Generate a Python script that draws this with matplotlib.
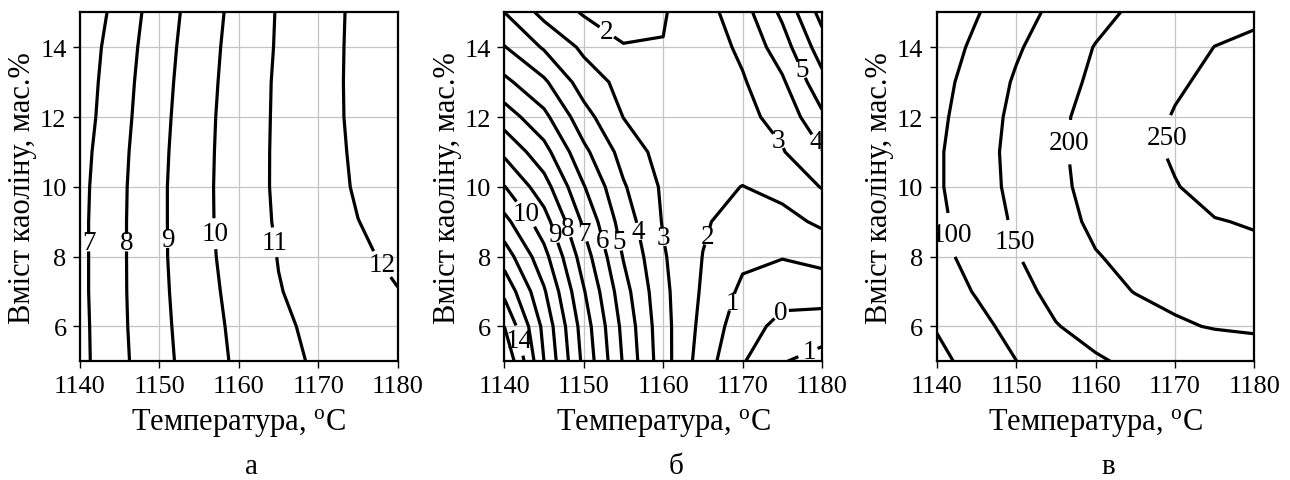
import numpy as np
import matplotlib
matplotlib.use('Agg')
import matplotlib.pyplot as plt

plt.rcParams['font.family'] = ['Liberation Serif', 'DejaVu Serif']
plt.rcParams['mathtext.fontset'] = 'custom'
plt.rcParams['mathtext.rm'] = 'Liberation Serif'
plt.rcParams['mathtext.it'] = 'Liberation Serif:italic'

# ---------------- data ----------------
temperature = [1140, 1145, 1150, 1155, 1160, 1165, 1170, 1175, 1180]
kaolin = [5, 6, 7, 8, 9, 10, 11, 12, 13, 14, 15]

# panel a (rows: kaolin 5..15, columns: temperature 1140..1180)
z_a = [
    [6.73, 7.77, 8.70, 9.49, 10.17, 10.72, 11.13, 11.39, 11.65],
    [6.74, 7.81, 8.75, 9.55, 10.24, 10.83, 11.21, 11.51, 11.80],
    [6.77, 7.83, 8.79, 9.62, 10.33, 10.96, 11.31, 11.64, 11.97],
    [6.77, 7.83, 8.82, 9.69, 10.41, 11.03, 11.43, 11.83, 12.20],
    [6.77, 7.83, 8.82, 9.72, 10.47, 11.11, 11.55, 11.99, 12.25],
    [6.74, 7.81, 8.82, 9.72, 10.49, 11.15, 11.63, 12.09, 12.33],
    [6.67, 7.76, 8.78, 9.70, 10.48, 11.15, 11.67, 12.13, 12.38],
    [6.55, 7.68, 8.72, 9.67, 10.46, 11.14, 11.69, 12.17, 12.42],
    [6.48, 7.61, 8.66, 9.61, 10.43, 11.13, 11.69, 12.18, 12.45],
    [6.39, 7.52, 8.58, 9.55, 10.38, 11.09, 11.67, 12.18, 12.45],
    [6.19, 7.38, 8.49, 9.46, 10.32, 11.07, 11.65, 12.17, 12.45],
]
levels_a = [7, 8, 9, 10, 11, 12]

# panel b
z_b = [
    [16.0, 12.0, 8.75, 5.90, 3.41, 1.50, 0.08, -0.94, -1.40],
    [15.0, 11.73, 8.53, 5.72, 3.35, 1.70, 0.43, -0.29, -0.45],
    [13.75, 11.12, 8.08, 5.39, 3.24, 1.87, 0.80, 0.36, 0.43],
    [12.53, 10.33, 7.50, 4.94, 3.10, 1.98, 1.20, 1.05, 1.30],
    [11.31, 9.42, 6.82, 4.52, 2.93, 2.11, 1.60, 1.68, 2.18],
    [10.04, 8.42, 6.06, 4.10, 2.85, 2.30, 1.98, 2.31, 3.05],
    [8.80, 7.36, 5.24, 3.63, 2.60, 2.30, 2.50, 2.93, 3.95],
    [7.52, 6.26, 4.39, 2.98, 2.45, 2.35, 2.75, 3.30, 4.82],
    [6.24, 5.17, 3.52, 2.70, 2.25, 2.40, 2.90, 3.85, 5.68],
    [5.05, 3.89, 2.80, 2.05, 2.03, 2.45, 3.20, 4.53, 6.52],
    [4.00, 2.70, 1.90, 1.60, 1.93, 2.59, 3.59, 5.21, 7.35],
]
levels_b = [-1, 0, 1, 2, 3, 4, 5, 6, 7, 8, 9, 10, 11, 12, 13, 14, 15]

# panel c
z_c = [
    [36.9, 68.1, 99.4, 122.5, 145.4, 157.8, 167.5, 177.3, 187.0],
    [53.0, 84.7, 117.3, 148.1, 163.8, 178.5, 196.0, 202.0, 203.5],
    [72.5, 103.8, 135.9, 162.1, 183.6, 201.5, 208.0, 214.0, 220.6],
    [85.8, 116.7, 147.5, 173.0, 198.0, 209.5, 220.0, 231.0, 241.0],
    [89.0, 123.3, 156.5, 186.3, 207.3, 220.9, 234.5, 248.1, 253.0],
    [93.6, 129.3, 162.2, 191.3, 212.4, 230.1, 247.9, 263.8, 272.0],
    [93.3, 130.6, 164.0, 193.0, 215.2, 235.2, 255.4, 267.0, 276.0],
    [88.6, 126.5, 161.4, 191.6, 214.0, 233.3, 252.5, 264.0, 272.0],
    [83.1, 119.9, 155.2, 183.9, 208.1, 226.5, 244.9, 258.0, 264.0],
    [74.0, 109.7, 144.4, 174.4, 201.9, 217.3, 232.7, 250.5, 254.0],
    [58.0, 96.6, 130.8, 161.1, 186.4, 208.0, 222.0, 234.0, 246.0],
]
levels_c = [50, 100, 150, 200, 250]

x_ticks = [1140, 1150, 1160, 1170, 1180]
y_ticks = [6, 8, 10, 12, 14]
x_label = r'Температура, $^{\mathrm{o}}$C'
y_label = 'Вміст каоліну, мас.%'
panel_letters = ['а', 'б', 'в']

# label anchors {level: [(T, C), ...]} and displayed text
labels_a = {7: [(1141.1, 8.4)], 8: [(1145.8, 8.4)], 9: [(1150.8, 8.5)],
            10: [(1156.6, 8.65)], 11: [(1164.2, 8.4)], 12: [(1177.2, 7.65)]}
labels_b = {14: [(1142.0, 5.6)], 10: [(1142.0, 9.1)], 9: [(1144.7, 8.5)],
            8: [(1146.7, 8.7)], 7: [(1149.0, 8.6)], 6: [(1151.4, 8.4)],
            5: [(1154.1, 8.4), (1177.9, 13.4)], 4: [(1156.4, 8.7), (1179.4, 11.3)],
            3: [(1160.0, 8.55), (1175.0, 11.4)], 2: [(1165.4, 8.6), (1152.8, 14.4)],
            1: [(1168.6, 6.7)], 0: [(1174.6, 6.45)], -1: [(1178.0, 5.5)]}
text_b = {-1: '1'}
labels_c = {100: [(1142.7, 8.65)], 150: [(1150.1, 8.46)],
            200: [(1155.3, 11.3)], 250: [(1168.3, 11.45)]}

# ---------------- plot ----------------
W, H = 1290, 481
fig = plt.figure(figsize=(W / 100, H / 100), dpi=100)

ax_lefts = [80, 504.3, 936.7]
ax_w = 317.7
ax_top, ax_bot = 13.3, 362.3

T, Cg = np.meshgrid(np.array(temperature, float), np.array(kaolin, float))
fields = [np.array(z_a), np.array(z_b), np.array(z_c)]
levels_all = [levels_a, levels_b, levels_c]
labels_all = [labels_a, labels_b, labels_c]
texts_all = [{}, text_b, {}]

for i in range(3):
    ax = fig.add_axes([ax_lefts[i] / W, 1 - ax_bot / H, ax_w / W, (ax_bot - ax_top) / H])
    ax.set_axisbelow(True)
    ax.grid(True, color='#c4c4c4', lw=0.9)
    for lev in levels_all[i]:
        cs = ax.contour(T, Cg, fields[i], levels=[lev], colors='k', linewidths=2.3)
        if lev in labels_all[i]:
            fmt = {lev: texts_all[i].get(lev, str(lev))}
            txts = cs.clabel(manual=labels_all[i][lev], inline=True, inline_spacing=2,
                             fontsize=19.5, fmt=fmt)
            for t in txts:
                t.set_rotation(0)
    ax.set_xlim(1140, 1180)
    ax.set_ylim(5, 15)
    ax.set_xticks(x_ticks)
    ax.set_yticks(y_ticks)
    ax.tick_params(direction='out', length=5, width=1, pad=4.6, labelsize=19)
    for s in ax.spines.values():
        s.set_linewidth(1.6)
    ax.set_xlabel(x_label, fontsize=22, labelpad=7)
    ax.set_ylabel(y_label, fontsize=22, labelpad=2)
    cx = (ax_lefts[i] + ax_w / 2 + 13) / W
    fig.text(cx, 1 - 474.5 / H, panel_letters[i], ha='center', va='baseline', fontsize=21)

fig.savefig('out.png', dpi=100)
